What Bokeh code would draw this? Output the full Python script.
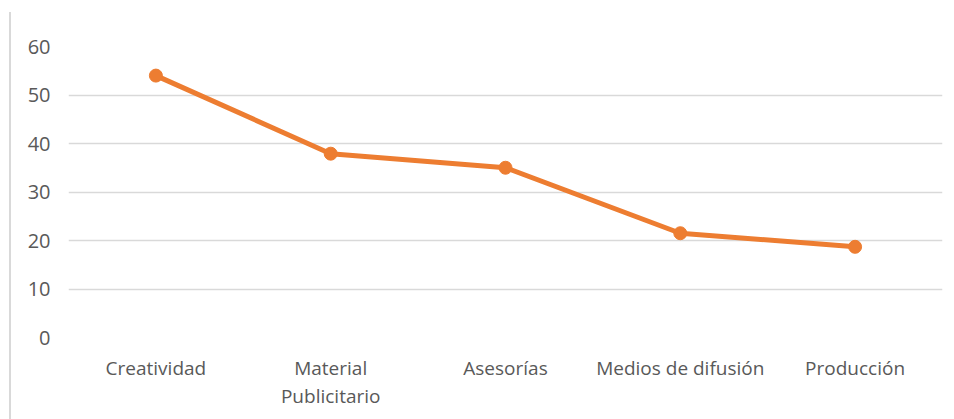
from bokeh.plotting import figure
from bokeh.models import FixedTicker
from bokeh.embed import file_html
from bokeh.resources import INLINE

categories = ["Creatividad", "Material\nPublicitario", "Asesorías", "Medios de difusión", "Producción"]
values = [54, 37.9, 35, 21.5, 18.7]
y_ticks = [0, 10, 20, 30, 40, 50, 60]

p = figure(x_range=categories, y_range=(0, 60), width=943, height=407,
           output_backend="svg", toolbar_location=None,
           min_border_left=57, min_border_right=12, min_border_top=34, min_border_bottom=82)
p.styles = {"margin-left": "9px", "margin-top": "12px", "border-left": "2px solid #d9d9d9"}
p.x_range.range_padding = 0
p.outline_line_color = None
p.background_fill_color = "white"

p.line(categories, values, line_color="#ED7D31", line_width=5)
p.scatter(categories, values, size=13, fill_color="#ED7D31", line_color="#ED7D31")

p.yaxis.ticker = FixedTicker(ticks=y_ticks)
p.yaxis.axis_line_color = None
p.yaxis.major_tick_line_color = None
p.yaxis.minor_tick_line_color = None
p.yaxis.major_tick_out = 0
p.yaxis.major_tick_in = 0
p.yaxis.major_label_standoff = 18
p.yaxis.major_label_text_font = "Open Sans"
p.yaxis.major_label_text_font_size = "20px"
p.yaxis.major_label_text_color = "#595959"

p.xaxis.axis_line_color = None
p.xaxis.major_tick_line_color = None
p.xaxis.major_tick_out = 0
p.xaxis.major_tick_in = 0
p.xaxis.major_label_standoff = 17
p.xaxis.major_label_text_font = "Open Sans"
p.xaxis.major_label_text_font_size = "19px"
p.xaxis.major_label_text_line_height = 1.1
p.xaxis.major_label_text_color = "#595959"

p.xgrid.grid_line_color = None
p.ygrid.grid_line_color = "#d9d9d9"
p.ygrid.grid_line_width = 1.5

open("out.html", "w").write(file_html(p, INLINE))
